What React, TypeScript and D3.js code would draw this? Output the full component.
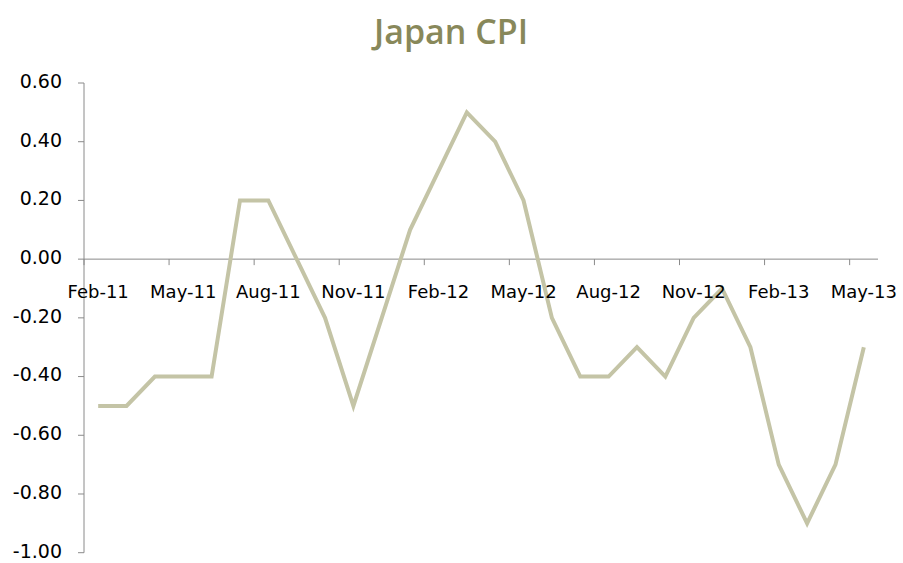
import React from "react";
import * as d3 from "d3";

const months: string[] = [
  "Feb-11","Mar-11","Apr-11","May-11","Jun-11","Jul-11","Aug-11","Sep-11","Oct-11","Nov-11","Dec-11","Jan-12",
  "Feb-12","Mar-12","Apr-12","May-12","Jun-12","Jul-12","Aug-12","Sep-12","Oct-12","Nov-12","Dec-12","Jan-13",
  "Feb-13","Mar-13","Apr-13","May-13",
];
const cpi: number[] = [
  -0.5, -0.5, -0.4, -0.4, -0.4, 0.2, 0.2, 0.0, -0.2, -0.5, -0.2, 0.1,
  0.3, 0.5, 0.4, 0.2, -0.2, -0.4, -0.4, -0.3, -0.4, -0.2, -0.1, -0.3,
  -0.7, -0.9, -0.7, -0.3,
];
const yTicks: number[] = [0.6, 0.4, 0.2, 0.0, -0.2, -0.4, -0.6, -0.8, -1.0];
const labelEvery = 3;

export default function App() {
  const W = 903, H = 563;
  const left = 84, right = 878, top = 83, bottom = 552.7;
  const x = d3.scaleBand<string>().domain(months).range([left, right]).padding(0);
  const y = d3.scaleLinear().domain([-1, 0.6]).range([bottom, top]);
  const bw = x.bandwidth();
  const cx = (m: string) => (x(m) as number) + bw / 2;
  const line = d3.line<number>()
    .x((_, i) => cx(months[i]))
    .y((d) => y(d));
  const axisColor = "#8a8a8a";
  const font = "'DejaVu Sans', sans-serif";
  const y0 = y(0);
  const tickIdx = months.map((_, i) => i).filter((i) => i % labelEvery === 0);
  return (
    <svg width={W} height={H} style={{ position: "absolute", left: 0, top: 0, background: "#fff" }}>
      <text x={451} y={44} textAnchor="middle" fontFamily="'Open Sans', sans-serif" fontWeight={600} fontSize={34} fill="#88885a">
        Japan CPI
      </text>
      {/* y axis */}
      <line x1={left} x2={left} y1={top} y2={bottom} stroke={axisColor} strokeWidth={1} />
      {yTicks.map((t) => (
        <g key={t}>
          <line x1={left - 6} x2={left} y1={y(t)} y2={y(t)} stroke={axisColor} />
          <text x={62} y={y(t) - 2} dy="0.36em" textAnchor="end" fontFamily={font} fontSize={19} fill="#000">
            {t.toFixed(2)}
          </text>
        </g>
      ))}
      {/* x axis at zero */}
      <line x1={left} x2={right} y1={y0} y2={y0} stroke={axisColor} strokeWidth={1} />
      {tickIdx.map((i) => (
        <line key={"t" + i} x1={x(months[i]) as number} x2={x(months[i]) as number} y1={y0} y2={y0 + 6} stroke={axisColor} />
      ))}
      <path d={line(cpi) || ""} fill="none" stroke="#c4c4a6" strokeWidth={4} strokeLinejoin="miter" />
      {tickIdx.map((i) => (
        <text key={"l" + i} x={cx(months[i])} y={y0 + 39} textAnchor="middle" fontFamily={font} fontSize={18} fill="#000">
          {months[i]}
        </text>
      ))}
    </svg>
  );
}
